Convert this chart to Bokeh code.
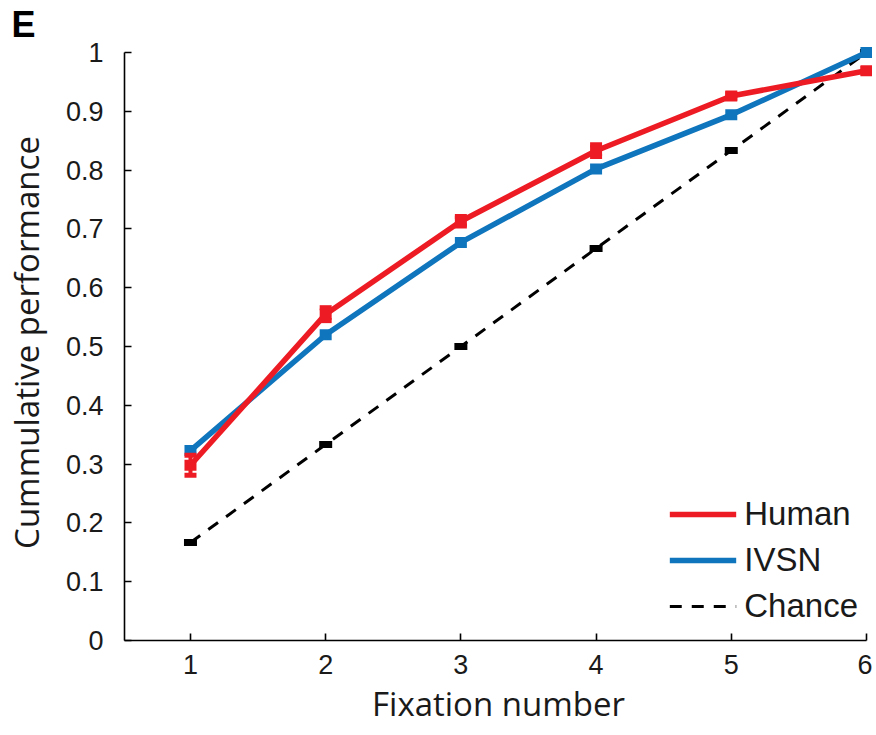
from bokeh.plotting import figure
from bokeh.models import FixedTicker, Range1d, Title, Legend, LegendItem
from bokeh.embed import file_html
from bokeh.resources import INLINE

fixations = [1, 2, 3, 4, 5, 6]
human = [0.298, 0.555, 0.713, 0.833, 0.926, 0.969]
human_err = [0.017, 0.011, 0.008, 0.010, 0.004, 0.004]
ivsn = [0.323, 0.520, 0.677, 0.802, 0.894, 1.000]
chance = [1/6, 2/6, 3/6, 4/6, 5/6, 1.0]
y_ticks = [0, 0.1, 0.2, 0.3, 0.4, 0.5, 0.6, 0.7, 0.8, 0.9, 1.0]
y_tick_labels = ["0", "0.1", "0.2", "0.3", "0.4", "0.5", "0.6", "0.7", "0.8", "0.9", "1"]

RED = "#ED1C24"
BLUE = "#0F75BC"

X0 = 0.512
FW, FH = 748, 596
p = figure(frame_width=FW, frame_height=FH, output_backend="svg", toolbar_location=None,
           x_range=Range1d(X0, X0 + FW / 135.2), y_range=Range1d(0, FH / 588),
           min_border_left=124, min_border_right=0, min_border_top=44, min_border_bottom=92)
p.outline_line_color = None
p.xgrid.visible = False
p.ygrid.visible = False
p.background_fill_color = "white"

# chance
r_ch = p.line(fixations, chance, line_color="black", line_width=3, line_dash="12 10")
p.rect(fixations, chance, width=13, height=7, width_units="screen", height_units="screen",
       fill_color="black", line_color=None)

# IVSN
r_iv = p.line(fixations, ivsn, line_color=BLUE, line_width=5.5)
p.rect(fixations, ivsn, width=12, height=11, width_units="screen", height_units="screen",
       fill_color=BLUE, line_color=None)

# Human
r_hu = p.line(fixations, human, line_color=RED, line_width=5.5)
lo = [h - e for h, e in zip(human, human_err)]
hi = [h + e for h, e in zip(human, human_err)]
p.segment(fixations, lo, fixations, hi, line_color=RED, line_width=4)
p.scatter(fixations, lo, marker="dash", size=12, line_color=RED, line_width=5)
p.scatter(fixations, hi, marker="dash", size=12, line_color=RED, line_width=5)
p.rect(fixations, human, width=12, height=11, width_units="screen", height_units="screen",
       fill_color=RED, line_color=None)

# axes
for ax in (p.xaxis[0], p.yaxis[0]):
    ax.axis_line_width = 1.6
    ax.axis_line_color = "black"
    ax.major_tick_line_color = "black"
    ax.major_tick_line_width = 1.6
    ax.major_tick_in = 7
    ax.major_tick_out = 0
    ax.minor_tick_line_color = None
    ax.major_label_text_font = "Liberation Sans"
    ax.major_label_text_font_size = "27px"
    ax.major_label_text_color = "#1a1a1a"
    ax.axis_label_text_font = "Open Sans"
    ax.axis_label_text_font_size = "33px"
    ax.axis_label_text_font_style = "normal"
    ax.axis_label_text_color = "#1a1a1a"

p.xaxis.ticker = FixedTicker(ticks=fixations)
p.xaxis.bounds = (X0, 6)
p.xaxis.axis_label = "Fixation number"
p.xaxis.major_label_standoff = 14
p.xaxis.axis_label_standoff = 4

p.yaxis.ticker = FixedTicker(ticks=y_ticks)
p.yaxis.major_label_overrides = {t: l for t, l in zip(y_ticks, y_tick_labels)}
p.yaxis.bounds = (0, 1)
p.yaxis.axis_label = "Cummulative performance"
p.yaxis.major_label_standoff = 21
p.yaxis.axis_label_standoff = 14

legend = Legend(items=[LegendItem(label="Human", renderers=[r_hu]),
                       LegendItem(label="IVSN", renderers=[r_iv]),
                       LegendItem(label="Chance", renderers=[r_ch])],
                location="bottom_right", border_line_color=None, background_fill_alpha=0,
                label_text_font="Liberation Sans", label_text_font_size="33px",
                label_text_color="#1a1a1a",
                glyph_width=67, glyph_height=40, label_height=40, spacing=6,
                label_standoff=8, padding=0, margin=14)
p.add_layout(legend)

p.add_layout(Title(text="E", text_font="Liberation Sans", text_font_size="36px",
                   text_font_style="bold", text_color="black", align="left",
                   offset=-113, standoff=0), "above")

open("out.html", "w").write(file_html(p, INLINE))
